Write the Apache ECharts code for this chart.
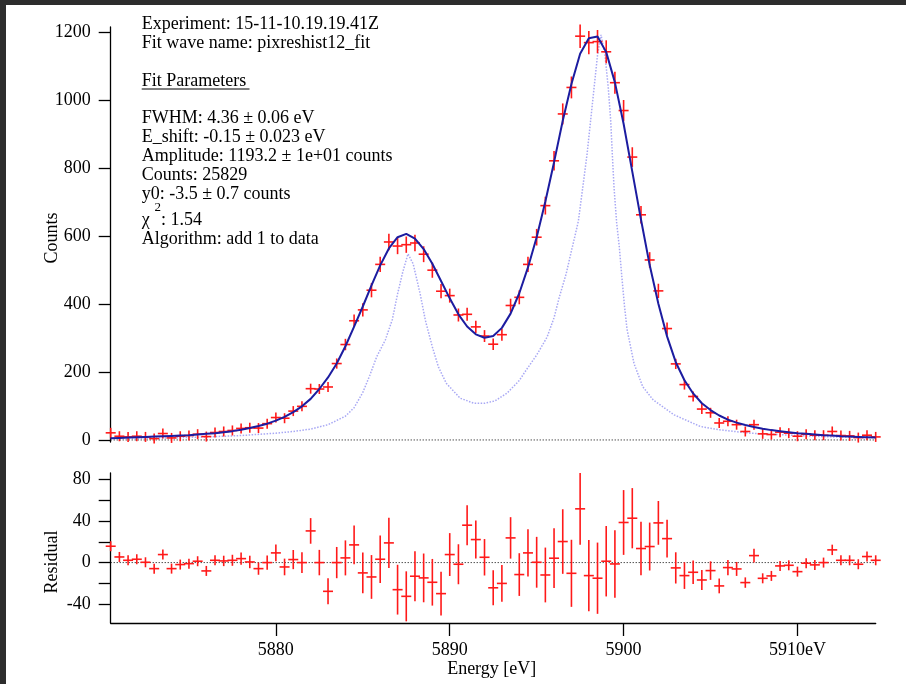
<!DOCTYPE html>
<html>
<head>
<meta charset="utf-8">
<script src="https://cdn.jsdelivr.net/npm/echarts@6/dist/echarts.min.js"></script>
<style>
html,body{margin:0;padding:0;background:#fff;}
#c{width:906px;height:684px;}
</style>
</head>
<body>
<div id="c"></div>
<script>
// ---- data ----
const energies = [5870.5,5871,5871.5,5872,5872.5,5873,5873.5,5874,5874.5,5875,
5875.5,5876,5876.5,5877,5877.5,5878,5878.5,5879,5879.5,5880,
5880.5,5881,5881.5,5882,5882.5,5883,5883.5,5884,5884.5,5885,
5885.5,5886,5886.5,5887,5887.5,5888,5888.5,5889,5889.5,5890,
5890.5,5891,5891.5,5892,5892.5,5893,5893.5,5894,5894.5,5895,
5895.5,5896,5896.5,5897,5897.5,5898,5898.5,5899,5899.5,5900,
5900.5,5901,5901.5,5902,5902.5,5903,5903.5,5904,5904.5,5905,
5905.5,5906,5906.5,5907,5907.5,5908,5908.5,5909,5909.5,5910,
5910.5,5911,5911.5,5912,5912.5,5913,5913.5,5914,5914.5];

const counts = [21,11,9,11,9,4,19,6,11,13,
17,10,22,25,28,34,36,35,48,66,
64,85,99,151,150,156,225,281,351,383,
441,517,583,571,575,580,547,500,438,425,
368,370,333,306,282,310,396,420,517,597,
690,822,960,1038,1189,1170,1173,1143,1052,970,
833,663,530,439,328,224,163,128,91,80,
50,55,45,25,45,18,16,23,20,11,
17,14,14,25,13,12,7,14,9];

const countErr = [4.6,3.3,3,3.3,3,2,4.4,2.4,3.3,3.6,
4.1,3.2,4.7,5,5.3,5.8,6,5.9,6.9,8.1,
8,9.2,9.9,12.3,12.2,12.5,15,16.8,18.7,19.6,
21,22.7,24.1,23.9,24,24.1,23.4,22.4,20.9,20.6,
19.2,19.2,18.2,17.5,16.8,17.6,19.9,20.5,22.7,24.4,
26.3,28.7,31,32.2,34.5,34.2,34.2,33.8,32.4,31.1,
28.9,25.7,23,21,18.1,15,12.8,11.3,9.5,8.9,
7.1,7.4,6.7,5,6.7,4.2,4,4.8,4.5,3.3,
4.1,3.7,3.7,5,3.6,3.5,2.6,3.7,3];

const fitCurve = [5,6,7,8,9,10,11,12,13,14,
16,18,20,23,26,30,35,41,48,57,
68,82,99,121,150,184,225,276,334,393,
455,514,564,597,607,593,562,519,468,417,
370,334,311,301,306,330,372,432,508,597,
702,818,940,1048,1137,1183,1188,1142,1053,931,
790,649,515,401,305,229,176,137,108,88,
72,60,51,44,38,33,29,26,23,20,
18,16,14,13,11,10,9,8,7];

const residuals = [15.7,5.4,2.2,3.2,0.3,-5.8,7.7,-5.8,-1.9,-1,
1.3,-8,2.2,1.6,2.2,3.8,0.6,-5.8,0,9.3,
-4.2,2.9,0,30.4,0,-27.6,0,4.5,17,-9.9,
-13.8,3.2,18.9,-26,-32.4,-13.1,-14.7,-18.9,-29.8,7.7,
-1.6,35.9,22.1,5.1,-24.2,-20,23.7,-11.5,9.3,0.3,
-11.9,4.2,20.2,-10.3,51.6,-12.5,-15,1.3,-1.3,38.5,
42.6,13.5,15.4,38.1,23,-5.1,-12.5,-9.3,-16.7,-7.7,
-22.4,-4.8,-6.1,-19.2,6.7,-15.1,-12.8,-3.2,-2.6,-8.7,
-0.6,-2.2,0,12.2,2.2,2.2,-1.6,5.8,2.2];

// intrinsic line shape (dotted curve)
const shapeE = [5870.5,5872,5874,5876,5878,5880,5881,5882,5883,5884,5884.5,5885,5885.4,5885.8,5886.3,5886.7,5887.0,5887.3,5887.6,5887.9,
5888.3,5888.6,5889.0,5889.35,5889.8,5890.6,5891.4,5892.0,5892.6,5893.3,5894.0,5894.4,5895.0,5895.6,5896.0,5896.3,5896.7,5897.0,5897.2,5897.4,
5897.65,5897.9,5898.1,5898.3,5898.5,5898.7,5898.93,5899.12,5899.26,5899.35,5899.45,5899.6,5899.75,5899.9,5900.05,5900.2,5900.6,5901.1,5901.7,5902.9,
5904.4,5905.5,5907.3,5910,5912,5914.5];
const shapeV = [4,5,6,9,13,20,25,32,45,70,95,140,190,245,295,355,430,495,548,518,
430,352,274,215,167,123,108,108,115,138,175,206,250,303,360,420,490,557,600,645,
743,842,939,1036,1133,1193,1133,1036,939,842,743,640,570,480,395,325,225,157,118,74,
40,30,20,13,9,7];

const xRange = [5870.5, 5914.5];
const xTicks = [5880, 5890, 5900, 5910];
const countTicks = [0, 200, 400, 600, 800, 1000, 1200];
const residTicks = [-40, -20, 0, 20, 40, 60, 80];
const residLabels = [-40, 0, 40, 80];

const infoLines = [
  'Experiment: 15-11-10.19.19.41Z',
  'Fit wave name: pixreshist12_fit',
  'Fit Parameters',
  'FWHM: 4.36 \u00b1 0.06 eV',
  'E_shift: -0.15 \u00b1 0.023 eV',
  'Amplitude: 1193.2 \u00b1 1e+01 counts',
  'Counts: 25829',
  'y0: -3.5 \u00b1 0.7 counts',
  'Algorithm: add 1 to data'
];

// ---- chart ----
const FONT = '"Liberation Serif","Times New Roman",serif';
const chart = echarts.init(document.getElementById('c'), null, {renderer: 'canvas'});

const mainPts = energies.map((e, i) => [e, counts[i], countErr[i]]);
const residPts = energies.map((e, i) => [e, residuals[i], countErr[i]]);
const fitPts = energies.map((e, i) => [e, fitCurve[i]]);
const shapePts = shapeE.map((e, i) => [e, shapeV[i]]);

const RED = 'rgb(255,25,25)';
function crossRender(params, api) {
  const x = api.value(0), y = api.value(1), e = api.value(2);
  const c = api.coord([x, y]);
  const t = api.coord([x, y + e]);
  const b = api.coord([x, y - e]);
  const arm = 5;
  const y1 = Math.min(t[1], c[1] - arm);
  const y2 = Math.max(b[1], c[1] + arm);
  return {
    type: 'group',
    children: [
      {type: 'line', shape: {x1: c[0] - arm, y1: c[1], x2: c[0] + arm, y2: c[1]}, style: {stroke: RED, lineWidth: 1.6}},
      {type: 'line', shape: {x1: c[0], y1: y1, x2: c[0], y2: y2}, style: {stroke: RED, lineWidth: 1.6}}
    ]
  };
}

const axisLineStyle = {color: '#000', width: 1.3};
const labelStyle = {fontFamily: FONT, fontSize: 18, color: '#000'};

function txt(text, x, y, size) {
  const f = (size || 18) + 'px ' + FONT;
  return {
    type: 'text', x: x, y: y, silent: true,
    style: {text: text, font: f, fill: '#000',
      align: 'left', verticalAlign: 'middle', textAlign: 'left', textVerticalAlign: 'middle'}
  };
}

const TX = 141.7;
const graphics = [
  {type: 'rect', shape: {x: 0, y: 0, width: 906, height: 5}, style: {fill: '#2d2d2d'}, silent: true},
  {type: 'rect', shape: {x: 0, y: 0, width: 6, height: 684}, style: {fill: '#2d2d2d'}, silent: true},
  txt(infoLines[0], TX, 24.7),
  txt(infoLines[1], TX, 43.3),
  txt(infoLines[2], TX, 81.3),
  {type: 'line', shape: {x1: TX, y1: 89, x2: 249.5, y2: 89}, style: {stroke: '#000', lineWidth: 1}, silent: true},
  txt(infoLines[3], TX, 118.3),
  txt(infoLines[4], TX, 137.3),
  txt(infoLines[5], TX, 156.3),
  txt(infoLines[6], TX, 175),
  txt(infoLines[7], TX, 194),
  txt('\u03c7', TX, 220.7),
  txt('2', 154.5, 208, 13),
  txt(': 1.54', 161, 220.7),
  txt(infoLines[8], TX, 239.7),
  {type: 'text', x: 52, y: 238, rotation: Math.PI / 2, silent: true,
    style: {text: 'Counts', font: '18px ' + FONT, fill: '#000', align: 'center', verticalAlign: 'middle', textAlign: 'center', textVerticalAlign: 'middle'}},
  {type: 'text', x: 52, y: 562, rotation: Math.PI / 2, silent: true,
    style: {text: 'Residual', font: '18px ' + FONT, fill: '#000', align: 'center', verticalAlign: 'middle', textAlign: 'center', textVerticalAlign: 'middle'}},
  {type: 'text', x: 491.7, y: 669, silent: true,
    style: {text: 'Energy [eV]', font: '18px ' + FONT, fill: '#000', align: 'center', verticalAlign: 'middle', textAlign: 'center', textVerticalAlign: 'middle'}}
];

const option = {
  animation: false,
  backgroundColor: '#ffffff',
  grid: [
    {left: 110.7, top: 27, width: 765, height: 415},
    {left: 110.7, top: 473, width: 765, height: 150}
  ],
  xAxis: [
    {gridIndex: 0, type: 'value', min: xRange[0], max: xRange[1], show: false},
    {gridIndex: 1, type: 'value', min: xRange[0], max: xRange[1],
      axisLine: {show: true, onZero: false, lineStyle: axisLineStyle},
      axisTick: {show: true, length: 13, inside: false, customValues: xTicks, lineStyle: axisLineStyle},
      axisLabel: Object.assign({customValues: xTicks, margin: 18,
        formatter: v => (v === 5910 ? '5910eV' : String(v))}, labelStyle),
      splitLine: {show: false}}
  ],
  yAxis: [
    {gridIndex: 0, type: 'value', min: -6, max: 1216,
      axisLine: {show: true, onZero: false, lineStyle: axisLineStyle},
      axisTick: {show: true, length: 12, customValues: countTicks, lineStyle: axisLineStyle},
      axisLabel: Object.assign({customValues: countTicks, margin: 20, formatter: v => String(v)}, labelStyle),
      splitLine: {show: false}},
    {gridIndex: 1, type: 'value', min: -58, max: 86,
      axisLine: {show: true, onZero: false, lineStyle: axisLineStyle},
      axisTick: {show: true, length: 12, customValues: residTicks, lineStyle: axisLineStyle},
      axisLabel: Object.assign({customValues: residLabels, margin: 20, formatter: v => String(v)}, labelStyle),
      splitLine: {show: false}}
  ],
  series: [
    {type: 'line', xAxisIndex: 0, yAxisIndex: 0, data: [[xRange[0], 0], [xRange[1], 0]],
      symbol: 'none', silent: true, lineStyle: {color: '#000', width: 1, type: [1, 2]}, z: 1},
    {type: 'line', xAxisIndex: 0, yAxisIndex: 0, data: shapePts, symbol: 'none', silent: true,
      lineStyle: {color: '#a8a8f4', width: 1.5, type: [1.5, 1.5]}, z: 2},
    {type: 'line', xAxisIndex: 0, yAxisIndex: 0, data: fitPts, symbol: 'none', silent: true,
      lineStyle: {color: '#1c1ca0', width: 2}, z: 4},
    {type: 'custom', xAxisIndex: 0, yAxisIndex: 0, data: mainPts, renderItem: crossRender,
      encode: {x: 0, y: 1}, clip: false, silent: true, z: 3},
    {type: 'line', xAxisIndex: 1, yAxisIndex: 1, data: [[xRange[0], 0], [xRange[1], 0]],
      symbol: 'none', silent: true, lineStyle: {color: '#000', width: 1, type: [1, 2]}, z: 1},
    {type: 'custom', xAxisIndex: 1, yAxisIndex: 1, data: residPts, renderItem: crossRender,
      encode: {x: 0, y: 1}, clip: false, silent: true, z: 3}
  ],
  graphic: graphics
};
chart.setOption(option);
</script>
</body>
</html>
